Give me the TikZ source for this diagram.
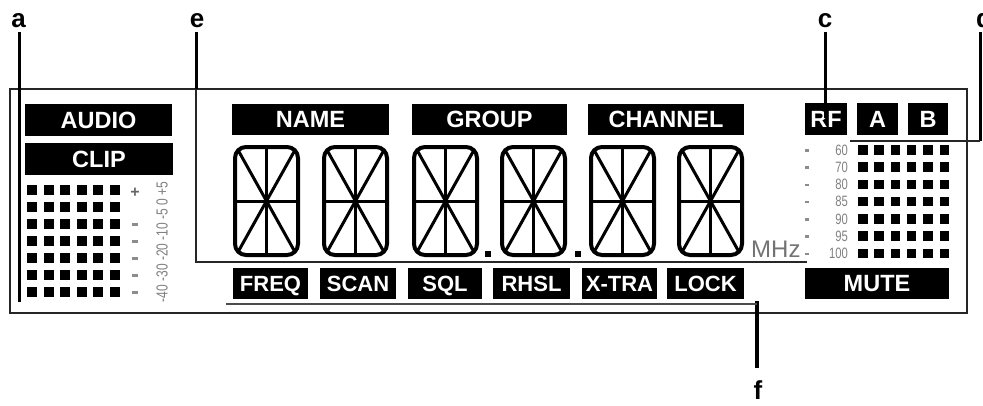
\documentclass[tikz,border=0pt]{standalone}
\usepackage{fontspec}
\setmainfont{Liberation Sans}
\newfontfamily\lcd{Liberation Sans}
\newfontfamily\lcdn[FakeStretch=0.75]{Liberation Sans}
\begin{document}
\begin{tikzpicture}[x=1pt,y=-1pt,
  lcdbox/.style={fill=black, text=white, inner sep=0pt,
    font=\lcd\bfseries\fontsize{23.5}{23.5}\selectfont, text height=16.8pt, text depth=0pt},
  lcdsm/.style={lcdbox, font=\lcd\bfseries\fontsize{22}{22}\selectfont, text height=15.8pt},
  callout/.style={font=\lcd\bfseries\fontsize{26}{26}\selectfont, inner sep=0pt, anchor=base},
  leader/.style={line width=3pt, black},
  leaderin/.style={line width=2.2pt, black!85},
  frameline/.style={line width=1.7pt, black!85},
  segframe/.style={line width=4pt, black, rounded corners=11pt},
  seg/.style={line width=3pt, black},
  scalenum/.style={font=\lcdn\fontsize{15}{15}\selectfont, text=black!50, inner sep=0pt, anchor=east},
  scaledash/.style={fill=black!45},
  lcddot/.style={fill=black}
]
\useasboundingbox (0,0) rectangle (983,405);

% display frame
\draw[frameline] (10,89) rectangle (967,313);

% label boxes, top row
\node[lcdbox, minimum width=147pt, minimum height=32pt] (audio) at (98.5,120) {AUDIO};
\node[lcdbox, minimum width=148pt, minimum height=32pt] (clip) at (99,159) {CLIP};
\node[lcdbox, minimum width=157pt, minimum height=31pt] (name) at (310.5,119.5) {NAME};
\node[lcdbox, minimum width=155pt, minimum height=31pt] (group) at (489.5,119.5) {GROUP};
\node[lcdbox, minimum width=156pt, minimum height=31pt] (channel) at (666,119.5) {CHANNEL};
\node[lcdbox, minimum width=42pt, minimum height=32pt] (rf) at (826,119) {RF};
\node[lcdbox, minimum width=41pt, minimum height=32pt] (boxa) at (877.5,119) {A};
\node[lcdbox, minimum width=40pt, minimum height=32pt] (boxb) at (928,119) {B};

% label boxes, bottom row
\node[lcdsm, minimum width=75pt, minimum height=31pt] (freq) at (270.5,283.5) {FREQ};
\node[lcdsm, minimum width=76pt, minimum height=31pt] (scan) at (358,283.5) {SCAN};
\node[lcdsm, minimum width=74pt, minimum height=31pt] (sql) at (445,283.5) {SQL};
\node[lcdsm, minimum width=77pt, minimum height=31pt] (rhsl) at (531.5,283.5) {RHSL};
\node[lcdsm, minimum width=75pt, minimum height=31pt] (xtra) at (619.5,283.5) {X-TRA};
\node[lcdsm, minimum width=77pt, minimum height=31pt] (lock) at (705.5,283.5) {LOCK};
\node[lcdbox, minimum width=144pt, minimum height=31pt] (mute) at (877,283.5) {MUTE};

% 14-segment digits
\foreach \L in {233,322,412,500,589,677}{
  \begin{scope}[shift={(\L,145)}]
    \draw[segframe] (2,2) rectangle (65,110);
    \draw[seg] (2,56) -- (65,56);
    \draw[seg] (33.5,2) -- (33.5,110);
    \draw[seg] (5,5) -- (33.5,56) -- (62,5);
    \draw[seg] (5,107) -- (33.5,56) -- (62,107);
  \end{scope}
}
\fill[lcddot] (485,251) rectangle (491,257);
\fill[lcddot] (575,251) rectangle (581,257);
\node[font=\lcd\fontsize{24}{24}\selectfont, text=black!55, inner sep=0pt, anchor=base west] (mhz) at (751,257) {MHz};

% left level meter
\foreach \c in {0,...,5}{
  \foreach \r in {0,...,6}{
    \fill[lcddot] ({27+16.6*\c},{185+17*\r}) rectangle ++(10,10);
  }
}
\node[font=\lcd\bfseries\fontsize{16}{16}\selectfont, text=black!60, inner sep=0pt] (plus) at (135,193) {+};
\foreach \r in {2,...,6}{
  \fill[scaledash] (132,{189+17*\r}) rectangle ++(6,2.5);
}
\node[rotate=90, font=\lcdn\fontsize{16}{16}\selectfont, text=black!50, inner sep=0pt] (afscale) at (162,242) {-40 -30 -20 -10 -5 0 +5};

% right level meter
\foreach \c in {0,...,5}{
  \foreach \r in {0,...,6}{
    \fill[lcddot] ({858+16.3*\c},{145+17.25*\r}) rectangle ++(9.5,9.5);
  }
}
\foreach \v [count=\i from 0] in {60,70,80,85,90,95,100}{
  \node[scalenum] (rfs\i) at (848,{150+17.25*\i}) {\v};
  \fill[scaledash] (805,{149+17.25*\i}) rectangle ++(4,2.5);
}

% callout labels
\node[callout] (la) at (18.5,27) {a};
\node[callout] (le) at (197,27) {e};
\node[callout] (lc) at (825,27) {c};
\node[callout] (ld) at (984,27) {d};
\node[callout] (lf) at (758,399) {f};

% leader lines
\coordinate (a0) at (19,32);
\coordinate (a1) at (19,302);
\draw[leader] (a0) -- (a1);

\coordinate (e0) at (196,32);
\coordinate (e1) at (196,89);
\coordinate (e2) at (196,262);
\coordinate (e3) at (807,262);
\draw[leader] (e0) -- (e1);
\draw[leaderin] (e1) -- (e2) -- (e3);

\coordinate (c0) at (825,32);
\coordinate (c1) at (825,118);
\draw[leader] (c0) -- (c1);

\coordinate (d0) at (980,32);
\coordinate (d1) at (980,141);
\coordinate (d2) at (850,141);
\draw[leader] (d0) -- (d1);
\draw[leaderin] (d1) -- (d2);

\coordinate (f0) at (757,368);
\coordinate (f1) at (757,301);
\coordinate (f2) at (757,304);
\coordinate (f3) at (226,304);
\draw[leader, line width=3.5pt] (f0) -- (f1);
\draw[leaderin, black!70, line width=2.5pt] (f2) -- (f3);
\end{tikzpicture}
\end{document}
